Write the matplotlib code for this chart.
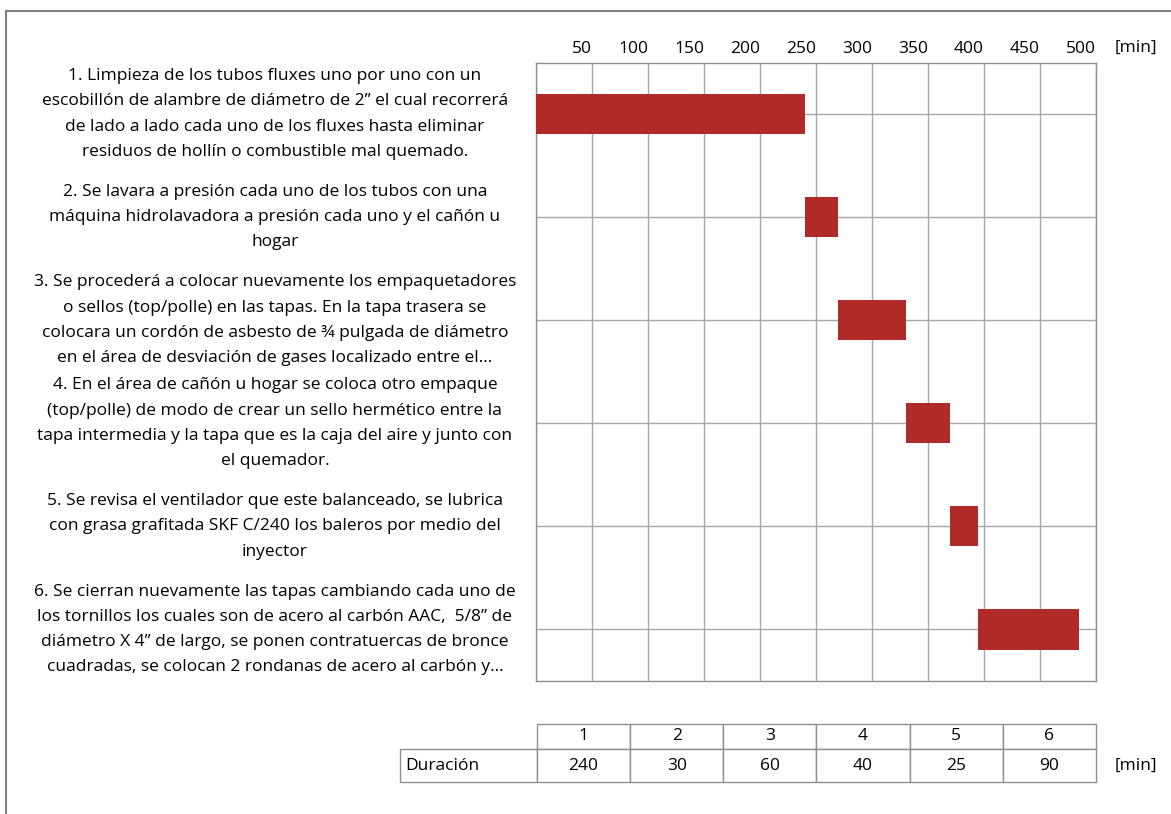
import matplotlib
matplotlib.use("Agg")
import matplotlib.pyplot as plt
from matplotlib.lines import Line2D

# ---- data ----
tasks = [
    "1. Limpieza de los tubos fluxes uno por uno con un\nescobillón de alambre de diámetro de 2” el cual recorrerá\nde lado a lado cada uno de los fluxes hasta eliminar\nresiduos de hollín o combustible mal quemado.",
    "2. Se lavara a presión cada uno de los tubos con una\nmáquina hidrolavadora a presión cada uno y el cañón u\nhogar",
    "3. Se procederá a colocar nuevamente los empaquetadores\no sellos (top/polle) en las tapas. En la tapa trasera se\ncolocara un cordón de asbesto de ¾ pulgada de diámetro\nen el área de desviación de gases localizado entre el…",
    "4. En el área de cañón u hogar se coloca otro empaque\n(top/polle) de modo de crear un sello hermético entre la\ntapa intermedia y la tapa que es la caja del aire y junto con\nel quemador.",
    "5. Se revisa el ventilador que este balanceado, se lubrica\ncon grasa grafitada SKF C/240 los baleros por medio del\ninyector",
    "6. Se cierran nuevamente las tapas cambiando cada uno de\nlos tornillos los cuales son de acero al carbón AAC,  5/8” de\ndiámetro X 4” de largo, se ponen contratuercas de bronce\ncuadradas, se colocan 2 rondanas de acero al carbón y…",
]
starts = [0, 240, 270, 330, 370, 395]
durations = [240, 30, 60, 40, 25, 90]
task_ids = ["1", "2", "3", "4", "5", "6"]
x_ticks = [50, 100, 150, 200, 250, 300, 350, 400, 450, 500]
row_label = "Duración"
unit = "[min]"

# ---- style ----
FONT = "Open Sans"
FS = 12.5
plt.rcParams["font.family"] = [FONT, "DejaVu Sans"]
BAR = "#B02A27"
GRID = "#a8a8a8"
EDGE = "#8f8f8f"

W, H = 1171, 814
fig = plt.figure(figsize=(W / 100, H / 100), dpi=100)

def fx(px):
    return px / W

def fy(py):
    return 1 - py / H

# main axes
ax = fig.add_axes([fx(536), fy(681), fx(1096) - fx(536), fy(62.5) - fy(681)])
ypos = list(range(len(tasks)))
ax.barh(ypos, durations, left=starts, height=0.39, color=BAR, edgecolor="none", zorder=3)
ax.set_xlim(0, 500)
ax.set_ylim(len(tasks) - 0.5, -0.5)
ax.xaxis.tick_top()
ax.set_xticks([0] + x_ticks)
ax.set_xticklabels([""] + [str(v) for v in x_ticks], fontsize=FS, ha="right")
ax.tick_params(axis="x", length=0, pad=4, colors="black")
ax.set_yticks(ypos)
ax.set_yticklabels(tasks, fontsize=FS, ha="center", va="center", multialignment="center")
ax.tick_params(axis="y", length=0, pad=188)
for t in ax.get_yticklabels():
    t.set_linespacing(1.77)
ax.grid(True, axis="both", color=GRID, linewidth=1.0, zorder=0)
ax.set_axisbelow(True)
for s in ax.spines.values():
    s.set_color(EDGE)
    s.set_linewidth(1.0)

fig.text(fx(1115), fy(48), unit, fontsize=FS, ha="left", va="center")

# table axes
tax = fig.add_axes([fx(400), fy(782), fx(1096) - fx(400), fy(724) - fy(782)])
tax.axis("off")
col_w = [137] + [93.17] * len(durations)
tbl = tax.table(
    cellText=[[row_label] + [str(d) for d in durations]],
    colLabels=[""] + task_ids,
    colWidths=[c / sum(col_w) for c in col_w],
    cellLoc="center",
    bbox=[0, 0, 1, 1],
)
tbl.auto_set_font_size(False)
tbl.set_fontsize(FS)
for (r, c), cell in tbl.get_celld().items():
    cell.set_edgecolor(EDGE)
    cell.set_linewidth(1.0)
    cell.set_height(25 if r == 0 else 33)
    if r == 0 and c == 0:
        cell.visible_edges = ""
    if r == 1 and c == 0:
        cell.PAD = 0.04
        cell.set_text_props(ha="left")
fig.text(fx(1115), fy(766), unit, fontsize=FS, ha="left", va="center")

# outer frame (left and top edges)
fig.add_artist(Line2D([fx(6), fx(6)], [0, fy(11)], color="#808080", linewidth=1.5))
fig.add_artist(Line2D([fx(6), 1], [fy(11), fy(11)], color="#808080", linewidth=1.5))

fig.savefig("out.png", dpi=100, facecolor="white")
